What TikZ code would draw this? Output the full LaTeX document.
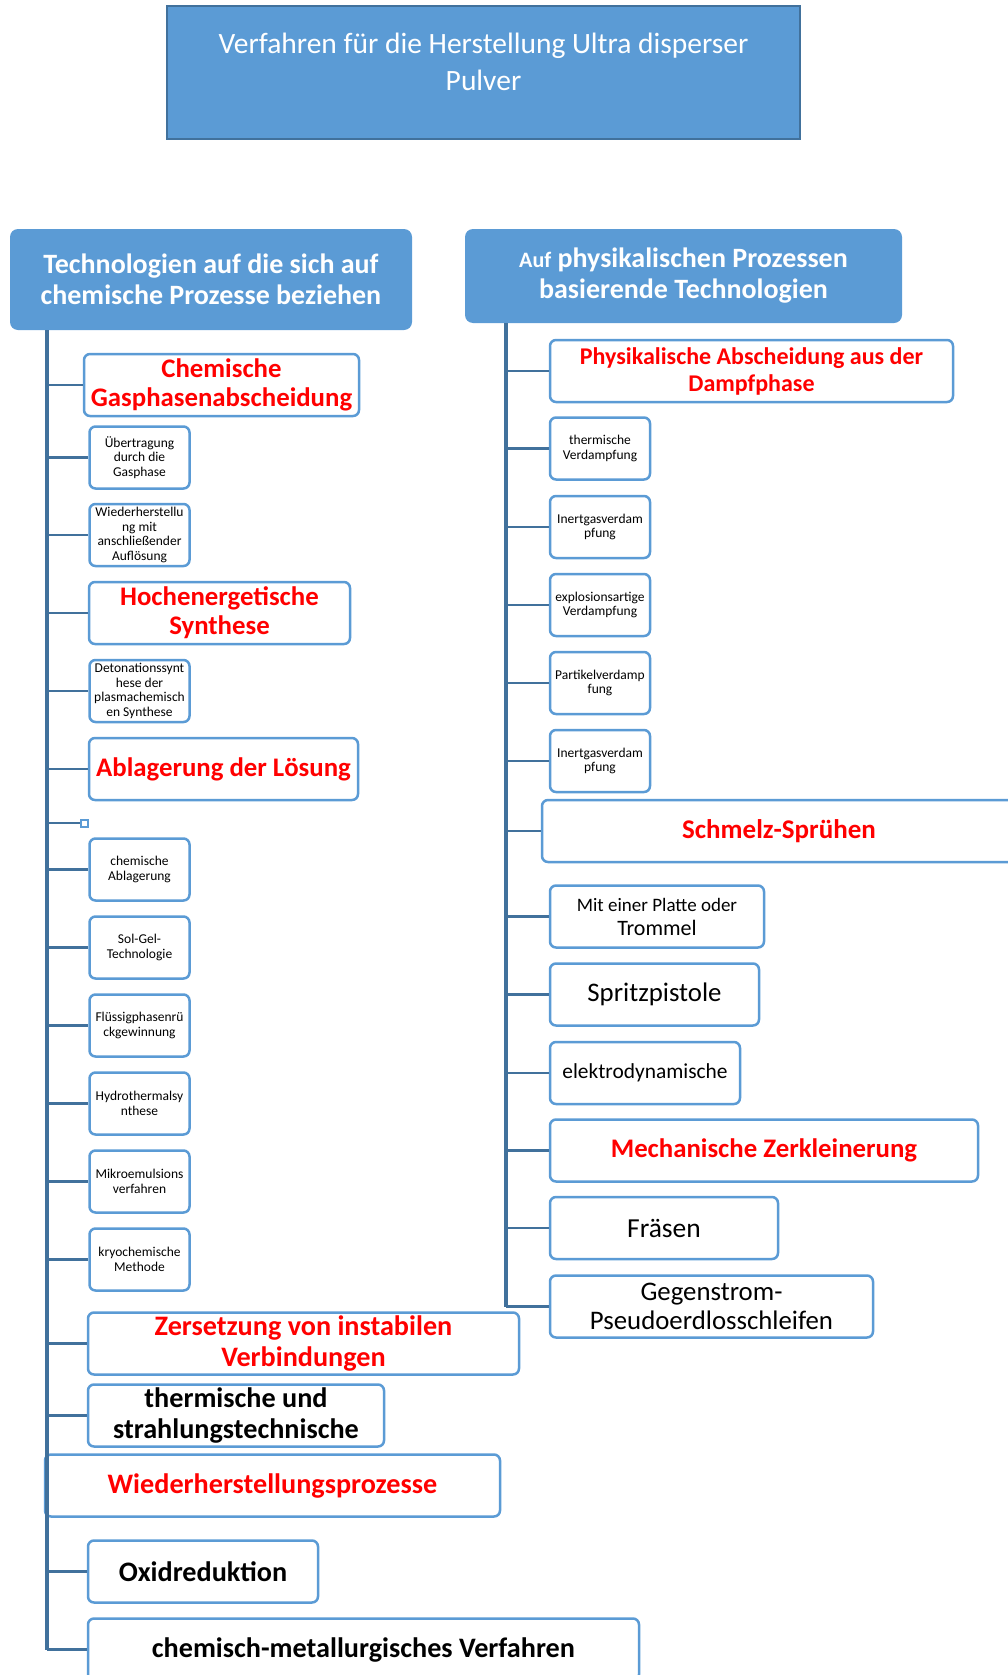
\documentclass[tikz,border=0pt]{standalone}
\usepackage{fontspec}
\setmainfont{Carlito}
\usepackage{tikz}
\definecolor{boxblue}{HTML}{5B9BD5}
\definecolor{lineblue}{HTML}{41719C}
\definecolor{hotred}{HTML}{FF0000}

\begin{document}
\begin{tikzpicture}[x=1pt,y=-1pt]
        \tikzset{title/.style = {shape=rectangle,draw=lineblue,line width=2.5pt,fill=boxblue,inner sep=0pt}}
        \tikzset{head/.style = {shape=rectangle,fill=boxblue,rounded corners=8pt,text=white,align=center,inner sep=0pt,font=\fontsize{28}{31}\bfseries\selectfont}}
        \tikzset{item/.style = {shape=rectangle,draw=boxblue,fill=white,line width=2.5pt,rounded corners=6pt,align=center,inner sep=0pt,minimum height=62pt}}
        \tikzset{tiny/.style = {item,minimum width=100pt,font=\fontsize{13.5}{14.5}\selectfont}}
        \tikzset{redbig/.style = {item,text=hotred,font=\fontsize{26.8}{29}\bfseries\selectfont}}
        \tikzset{redlow/.style = {item,text=hotred,font=\fontsize{28.2}{31}\bfseries\selectfont}}
        \tikzset{blackbig/.style = {item,font=\fontsize{28.2}{31}\bfseries\selectfont}}
        \tikzset{plain/.style = {item,font=\fontsize{26.8}{29}\selectfont}}
        \tikzset{knob/.style = {shape=rectangle,draw=boxblue,fill=white,line width=2pt,minimum size=7pt,inner sep=0pt}}
        \tikzset{edge/.style = {draw=lineblue,line width=2.5pt}}
        \tikzset{trunk/.style = {draw=lineblue,line width=4.5pt}}

        \useasboundingbox (0,0) rectangle (1008,1675);
        \clip (0,0) rectangle (1008,1675);

        \node[title,minimum width=633pt,minimum height=133pt,
              label={[text=white,align=center,font=\fontsize{29.5}{37}\selectfont,yshift=11pt]center:{Verfahren für die Herstellung Ultra disperser\\Pulver}}]
              (T) at (483.5,72.5) {};

        \node[head,minimum width=402pt,minimum height=101pt] (LH) at (211,279.5) {Technologien auf die sich auf\\chemische Prozesse beziehen};
        \node[head,minimum width=437pt,minimum height=94pt] (RH) at (683.5,276) {{\fontsize{22}{31}\selectfont Auf} physikalischen Prozessen\\basierende Technologien};

        % chemical side
        \node[redbig,minimum width=275pt] (L1) at (221.5,385) {Chemische\\Gasphasenabscheidung};
        \node[tiny] (L2) at (139.5,457.5) {Übertragung\\durch die\\Gasphase};
        \node[tiny] (L3) at (139.5,535) {Wiederherstellu\\ng mit\\anschließender\\Auflösung};
        \node[redbig,minimum width=261pt] (L4) at (219.5,613) {Hochenergetische\\Synthese};
        \node[tiny] (L5) at (139.5,691) {Detonationssynt\\hese der\\plasmachemisch\\en Synthese};
        \node[redbig,minimum width=269pt] (L6) at (223.5,769) {Ablagerung der Lösung};
        \node[knob] (SQ) at (84,823) {};
        \node[tiny] (L7) at (139.5,869.5) {chemische\\Ablagerung};
        \node[tiny] (L8) at (139.5,947.5) {Sol-Gel-\\Technologie};
        \node[tiny] (L9) at (139.5,1025.5) {Flüssigphasenrü\\ckgewinnung};
        \node[tiny] (L10) at (139.5,1103.5) {Hydrothermalsy\\nthese};
        \node[tiny] (L11) at (139.5,1181.5) {Mikroemulsions\\verfahren};
        \node[tiny] (L12) at (139.5,1259.5) {kryochemische\\Methode};
        \node[redlow,minimum width=431pt] (L13) at (303.5,1343.5) {Zersetzung von instabilen\\Verbindungen};
        \node[blackbig,minimum width=296pt] (L14) at (236,1415.5) {thermische und\\strahlungstechnische};
        \node[redlow,minimum width=455pt] (L15) at (272.5,1485.5) {Wiederherstellungsprozesse};
        \node[blackbig,minimum width=230pt] (L16) at (203,1571.5) {Oxidreduktion};
        \node[blackbig,minimum width=551pt] (L17) at (363.5,1649.5) {chemisch-metallurgisches Verfahren};

        % physical side
        \node[redbig,minimum width=403pt,font=\fontsize{24}{27}\bfseries\selectfont] (R1) at (751.5,371) {Physikalische Abscheidung aus der\\Dampfphase};
        \node[tiny] (R2) at (600,448.5) {thermische\\Verdampfung};
        \node[tiny] (R3) at (600,527) {Inertgasverdam\\pfung};
        \node[tiny] (R4) at (600,605) {explosionsartige\\Verdampfung};
        \node[tiny] (R5) at (600,683) {Partikelverdamp\\fung};
        \node[tiny] (R6) at (600,761) {Inertgasverdam\\pfung};
        \node[redbig,minimum width=474pt,font=\fontsize{27}{29}\bfseries\selectfont] (R7) at (779,831) {Schmelz-Sprühen};
        \node[plain,minimum width=214pt,font=\fontsize{19}{24}\selectfont] (R8) at (657,916.5) {Mit einer Platte oder\\{\fontsize{22}{24}\selectfont Trommel}};
        \node[plain,minimum width=209pt] (R9) at (654.5,994.5) {Spritzpistole};
        \node[plain,minimum width=190pt,font=\fontsize{21.4}{24}\selectfont] (R10) at (645,1073) {elektrodynamische};
        \node[redbig,minimum width=428pt] (R11) at (764,1150.5) {Mechanische Zerkleinerung};
        \node[plain,minimum width=228pt,font=\fontsize{27.5}{29}\selectfont] (R12) at (664,1228) {Fräsen};
        \node[plain,minimum width=323pt] (R13) at (711.5,1306.5) {Gegenstrom-\\Pseudoerdlosschleifen};

        \coordinate (ltop) at (47,330);
        \coordinate (rtop) at (506,323);

        \draw[trunk] (ltop) to (ltop |- L17.west);
        \draw[trunk] (rtop) to (rtop |- R13.west);

        \draw[edge] (ltop |- L1.west) to (L1.west);
        \draw[edge] (ltop |- L2.west) to (L2.west);
        \draw[edge] (ltop |- L3.west) to (L3.west);
        \draw[edge] (ltop |- L4.west) to (L4.west);
        \draw[edge] (ltop |- L5.west) to (L5.west);
        \draw[edge] (ltop |- L6.west) to (L6.west);
        \draw[edge] (ltop |- SQ.west) to (SQ.west);
        \draw[edge] (ltop |- L7.west) to (L7.west);
        \draw[edge] (ltop |- L8.west) to (L8.west);
        \draw[edge] (ltop |- L9.west) to (L9.west);
        \draw[edge] (ltop |- L10.west) to (L10.west);
        \draw[edge] (ltop |- L11.west) to (L11.west);
        \draw[edge] (ltop |- L12.west) to (L12.west);
        \draw[edge] (ltop |- L13.west) to (L13.west);
        \draw[edge] (ltop |- L14.west) to (L14.west);
        \draw[edge] (ltop |- L16.west) to (L16.west);
        \draw[edge] (ltop |- L17.west) to (L17.west);

        \draw[edge] (rtop |- R1.west) to (R1.west);
        \draw[edge] (rtop |- R2.west) to (R2.west);
        \draw[edge] (rtop |- R3.west) to (R3.west);
        \draw[edge] (rtop |- R4.west) to (R4.west);
        \draw[edge] (rtop |- R5.west) to (R5.west);
        \draw[edge] (rtop |- R6.west) to (R6.west);
        \draw[edge] (rtop |- R7.west) to (R7.west);
        \draw[edge] (rtop |- R8.west) to (R8.west);
        \draw[edge] (rtop |- R9.west) to (R9.west);
        \draw[edge] (rtop |- R10.west) to (R10.west);
        \draw[edge] (rtop |- R11.west) to (R11.west);
        \draw[edge] (rtop |- R12.west) to (R12.west);
        \draw[edge] (rtop |- R13.west) to (R13.west);
\end{tikzpicture}
\end{document}
